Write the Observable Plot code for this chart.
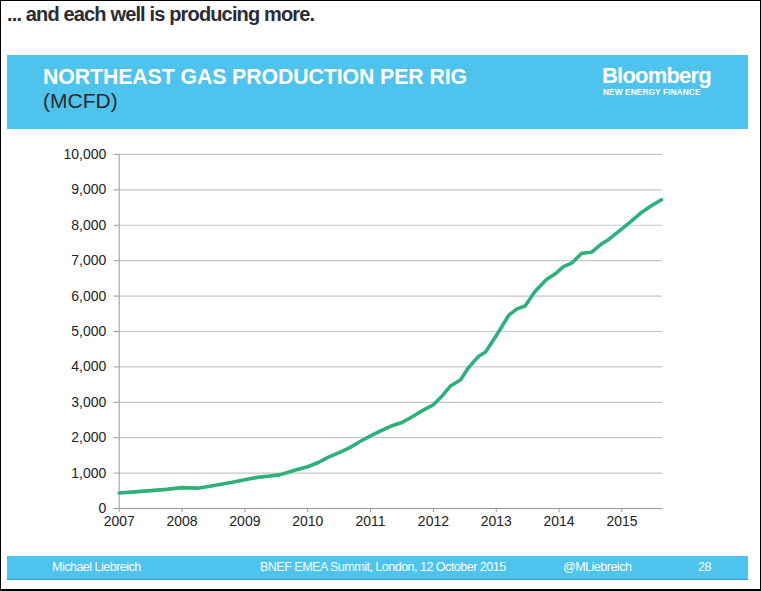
<!DOCTYPE html>
<html>
<head>
<meta charset="utf-8">
<script src="https://cdn.jsdelivr.net/npm/d3@7"></script>
<script src="https://cdn.jsdelivr.net/npm/@observablehq/plot@0.6"></script>
<style>
  html, body { margin: 0; padding: 0; background: #fff; }
  #page { position: relative; width: 761px; height: 591px; box-sizing: border-box; border: 1px solid #000; border-bottom-width: 2px; overflow: hidden; font-family: "Liberation Sans", Arial, sans-serif; }
  #kicker { position: absolute; left: 6px; top: 2px; font-size: 20px; font-weight: bold; letter-spacing: -0.85px; color: #2c2c34; }
  #band { position: absolute; left: 6px; top: 54px; width: 741px; height: 74px; background: #4dc3ee; }
  #title { position: absolute; left: 36px; top: 10px; font-size: 21.3px; font-weight: bold; color: #fff; letter-spacing: -0.1px; }
  #sub { position: absolute; left: 36px; top: 34px; font-size: 21px; color: #2a2a2a; }
  #logo1 { position: absolute; left: 595px; top: 8px; font-size: 22px; font-weight: bold; color: #fff; letter-spacing: -0.8px; }
  #logo2 { position: absolute; left: 596px; top: 32px; font-size: 8.3px; font-weight: bold; color: #fff; letter-spacing: 0.1px; }
  #foot { position: absolute; left: 6px; top: 555px; width: 741px; height: 23px; background: #4dc3ee; border-bottom: 1px solid #3a9fc8; color: #fff; font-size: 12.5px; letter-spacing: -0.5px; }
  #foot span { position: absolute; top: 4px; }
  #chart { position: absolute; left: 0; top: 140px; }
</style>
</head>
<body>
<div id="page">
  <div id="kicker">... and each well is producing more.</div>
  <div id="band">
    <div id="title">NORTHEAST GAS PRODUCTION PER RIG</div>
    <div id="sub">(MCFD)</div>
    <div id="logo1">Bloomberg</div>
    <div id="logo2">NEW ENERGY FINANCE</div>
  </div>
  <div id="chart"></div>
  <div id="foot">
    <span style="left:45px">Michael Liebreich</span>
    <span style="left:253px">BNEF EMEA Summit, London, 12 October 2015</span>
    <span style="left:556px">@MLiebreich</span>
    <span style="left:691px">28</span>
  </div>
</div>
<script>
const years = [2007.0, 2007.25, 2007.5, 2007.75, 2008.0, 2008.25, 2008.42, 2008.6, 2008.8, 2009.0,
  2009.2, 2009.4, 2009.55, 2009.75, 2010.0, 2010.17, 2010.33, 2010.5, 2010.67, 2010.84,
  2011.0, 2011.17, 2011.33, 2011.5, 2011.67, 2011.84, 2012.0, 2012.14, 2012.27, 2012.43,
  2012.56, 2012.72, 2012.83, 2013.0, 2013.2, 2013.33, 2013.46, 2013.62, 2013.8, 2013.94,
  2014.07, 2014.2, 2014.36, 2014.52, 2014.68, 2014.79, 2015.0, 2015.15, 2015.29, 2015.45, 2015.63];
const values = [440, 470, 505, 540, 590, 575, 620, 680, 740, 810,
  880, 920, 950, 1060, 1180, 1300, 1450, 1580, 1720, 1900,
  2050, 2200, 2330, 2430, 2600, 2780, 2930, 3180, 3460, 3630,
  3980, 4300, 4420, 4880, 5460, 5640, 5720, 6140, 6470, 6630,
  6830, 6930, 7210, 7240, 7480, 7600, 7900, 8120, 8330, 8530, 8720];
const xTicks = [2007, 2008, 2009, 2010, 2011, 2012, 2013, 2014, 2015];
const yTicks = [0, 1000, 2000, 3000, 4000, 5000, 6000, 7000, 8000, 9000, 10000];

const data = years.map((y, i) => ({year: y, value: values[i]}));

const chart = Plot.plot({
  width: 761,
  height: 390,
  marginLeft: 118,
  marginRight: 98,
  marginTop: 13,
  marginBottom: 22,
  style: {fontFamily: "Liberation Sans, Arial, sans-serif", fontSize: "14px", color: "#222", background: "transparent"},
  x: {domain: [2007, 2015.65], label: null},
  y: {domain: [0, 10000], label: null},
  marks: [
    Plot.ruleY(yTicks.filter(d => d > 0), {stroke: "#c6c6c6", strokeWidth: 1.2}),
    Plot.axisY({ticks: yTicks, tickFormat: d3.format(","), tickSize: 5, tickPadding: 8, stroke: "#999", label: null, fontSize: 14}),
    Plot.axisX({ticks: xTicks, tickFormat: d3.format("d"), tickSize: 4, tickPadding: 4, stroke: "#999", label: null, fontSize: 14}),
    Plot.ruleX([2007], {stroke: "#999"}),
    Plot.ruleY([0], {stroke: "#999"}),
    Plot.line(data, {x: "year", y: "value", stroke: "#2eb07a", strokeWidth: 3.6, strokeLinejoin: "round", strokeLinecap: "round"})
  ]
});
document.getElementById("chart").appendChild(chart);
</script>
</body>
</html>
